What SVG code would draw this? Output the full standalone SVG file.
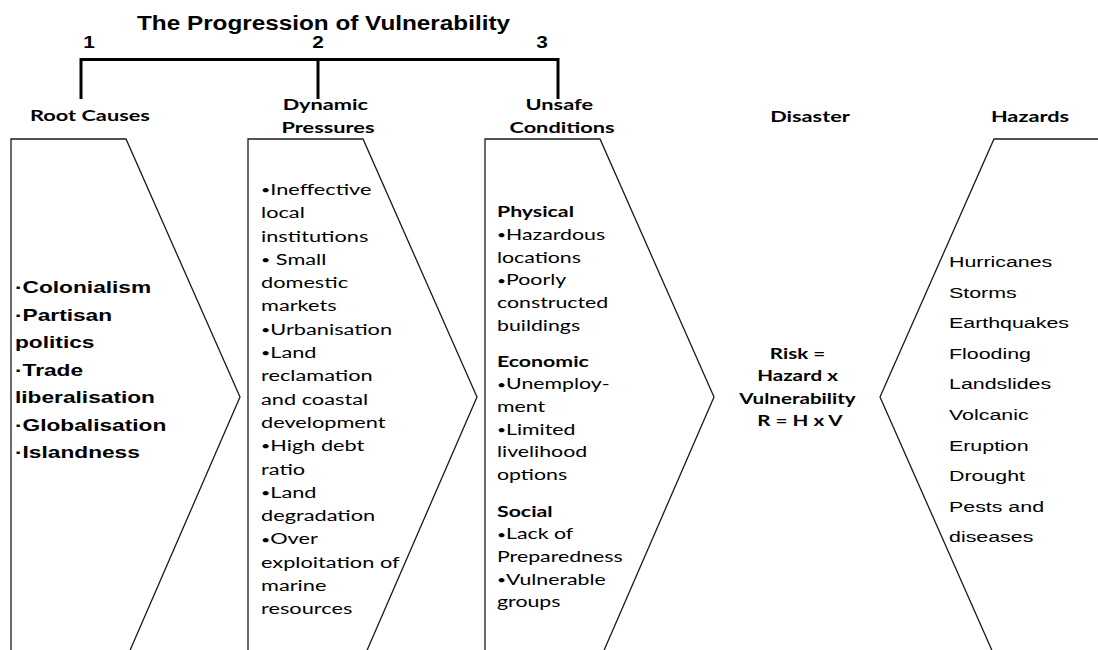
<svg xmlns="http://www.w3.org/2000/svg" width="1098" height="650" viewBox="0 0 1098 650">
  <style>
    .chev { fill: #ffffff; stroke: #1a1a1a; stroke-width: 1.3; stroke-linejoin: miter; }
    .bracket { fill: none; stroke: #000000; stroke-width: 3; stroke-linecap: square; }
    .arial { font-family: "Liberation Sans", Arial, sans-serif; fill: #000000; }
    .cal { font-family: Lato, "Open Sans", sans-serif; fill: #000000; }
    .b { font-weight: bold; }
    .bul { font-size: 11px; baseline-shift: 1px; }
    .title { font-size: 20px; font-weight: bold; }
    .num { font-size: 16px; font-weight: bold; }
    .head { font-size: 15px; font-weight: bold; }
    .body1 { font-size: 16px; font-weight: bold; }
    .body2 { font-size: 15px; }
    .haz { font-size: 15.5px; }
  </style>

  <rect x="0" y="0" width="1098" height="650" fill="#ffffff"/>

  <!-- heading and stage numbers -->
  <g id="heading">
    <text class="arial title" x="137" y="30" textLength="373" lengthAdjust="spacingAndGlyphs">The Progression of Vulnerability</text>
    <text class="arial num" transform="translate(89,0) scale(1.3,1)" text-anchor="middle"><tspan x="0" y="48">1</tspan></text>
    <text class="arial num" transform="translate(318,0) scale(1.3,1)" text-anchor="middle"><tspan x="0" y="48">2</tspan></text>
    <text class="arial num" transform="translate(542,0) scale(1.3,1)" text-anchor="middle"><tspan x="0" y="48">3</tspan></text>
  </g>

  <!-- bracket linking the three stages -->
  <g id="connectors">
    <path class="bracket" d="M81,97.5 V59.5 H558 V97.5"/>
    <path class="bracket" d="M318,59.5 V97.5"/>
  </g>

  <!-- stage 1 -->
  <g id="root-causes">
    <text class="cal head" transform="translate(90,0) scale(1.45,1)" text-anchor="middle"><tspan x="0" y="121">Root Causes</tspan></text>
    <path class="chev" d="M11,139 H126 L240,397 L128,655 H11 Z"/>
    <text class="arial body1" transform="translate(15,0) scale(1.42,1)">
      <tspan x="0" y="293.5">·Colonialism</tspan>
      <tspan x="0" y="321">·Partisan</tspan>
      <tspan x="0" y="348.5">politics</tspan>
      <tspan x="0" y="376">·Trade</tspan>
      <tspan x="0" y="403.5">liberalisation</tspan>
      <tspan x="0" y="431">·Globalisation</tspan>
      <tspan x="0" y="458.5">·Islandness</tspan>
    </text>
  </g>

  <!-- stage 2 -->
  <g id="dynamic-pressures">
    <text class="cal head" transform="translate(328,0) scale(1.45,1)" text-anchor="middle">
      <tspan x="0" y="110">Dynamic</tspan>
      <tspan x="0" y="133">Pressures</tspan>
    </text>
    <path class="chev" d="M248,139 H363 L477,397 L365,655 H248 Z"/>
    <text class="cal body2" transform="translate(261,0) scale(1.45,1)">
      <tspan x="0" y="195"><tspan class="bul">•</tspan>Ineffective</tspan>
      <tspan x="0" y="218.3">local</tspan>
      <tspan x="0" y="241.6">institutions</tspan>
      <tspan x="0" y="264.9"><tspan class="bul">•</tspan> Small</tspan>
      <tspan x="0" y="288.2">domestic</tspan>
      <tspan x="0" y="311.5">markets</tspan>
      <tspan x="0" y="334.8"><tspan class="bul">•</tspan>Urbanisation</tspan>
      <tspan x="0" y="358.1"><tspan class="bul">•</tspan>Land</tspan>
      <tspan x="0" y="381.4">reclamation</tspan>
      <tspan x="0" y="404.7">and coastal</tspan>
      <tspan x="0" y="428">development</tspan>
      <tspan x="0" y="451.3"><tspan class="bul">•</tspan>High debt</tspan>
      <tspan x="0" y="474.6">ratio</tspan>
      <tspan x="0" y="497.9"><tspan class="bul">•</tspan>Land</tspan>
      <tspan x="0" y="521.2">degradation</tspan>
      <tspan x="0" y="544.5"><tspan class="bul">•</tspan>Over</tspan>
      <tspan x="0" y="567.8">exploitation of</tspan>
      <tspan x="0" y="591.1">marine</tspan>
      <tspan x="0" y="614.4">resources</tspan>
    </text>
  </g>

  <!-- stage 3 -->
  <g id="unsafe-conditions">
    <text class="cal head" transform="translate(562,0) scale(1.45,1)" text-anchor="middle">
      <tspan x="0" y="110">Unsafe</tspan>
      <tspan x="0" y="133">Conditions</tspan>
    </text>
    <path class="chev" d="M485,139 H600 L714,397 L602,655 H485 Z"/>
    <text class="cal body2" transform="translate(497,0) scale(1.42,1)">
      <tspan class="b" x="0" y="217.3">Physical</tspan>
      <tspan x="0" y="240"><tspan class="bul">•</tspan>Hazardous</tspan>
      <tspan x="0" y="262.7">locations</tspan>
      <tspan x="0" y="285.4"><tspan class="bul">•</tspan>Poorly</tspan>
      <tspan x="0" y="308.1">constructed</tspan>
      <tspan x="0" y="330.8">buildings</tspan>
      <tspan class="b" x="0" y="366.7">Economic</tspan>
      <tspan x="0" y="389.4"><tspan class="bul">•</tspan>Unemploy-</tspan>
      <tspan x="0" y="412.1">ment</tspan>
      <tspan x="0" y="434.8"><tspan class="bul">•</tspan>Limited</tspan>
      <tspan x="0" y="457.5">livelihood</tspan>
      <tspan x="0" y="480.2">options</tspan>
      <tspan class="b" x="0" y="516.7">Social</tspan>
      <tspan x="0" y="539.4"><tspan class="bul">•</tspan>Lack of</tspan>
      <tspan x="0" y="562.1">Preparedness</tspan>
      <tspan x="0" y="584.8"><tspan class="bul">•</tspan>Vulnerable</tspan>
      <tspan x="0" y="607.5">groups</tspan>
    </text>
  </g>

  <!-- outcome -->
  <g id="disaster">
    <text class="cal head" transform="translate(810,0) scale(1.45,1)" text-anchor="middle"><tspan x="0" y="122">Disaster</tspan></text>
    <text class="cal head" transform="translate(800,0) scale(1.42,1)" text-anchor="middle" style="font-size:14.5px">
      <tspan x="0" y="359">Risk =</tspan>
      <tspan x="0" y="381.5">Hazard x</tspan>
      <tspan x="0" y="404">Vulnerability</tspan>
      <tspan x="0" y="426.5">R = H x V</tspan>
    </text>
  </g>

  <!-- triggering events -->
  <g id="hazards">
    <text class="cal head" transform="translate(1030,0) scale(1.45,1)" text-anchor="middle"><tspan x="0" y="122">Hazards</tspan></text>
    <path class="chev" d="M1102,139 H994 L880,397 L994,655 H1102 Z"/>
    <text class="arial haz" transform="translate(949,0) scale(1.38,1)">
      <tspan x="0" y="267">Hurricanes</tspan>
      <tspan x="0" y="297.6">Storms</tspan>
      <tspan x="0" y="328.2">Earthquakes</tspan>
      <tspan x="0" y="358.8">Flooding</tspan>
      <tspan x="0" y="389.4">Landslides</tspan>
      <tspan x="0" y="420">Volcanic</tspan>
      <tspan x="0" y="450.6">Eruption</tspan>
      <tspan x="0" y="481.2">Drought</tspan>
      <tspan x="0" y="511.8">Pests and</tspan>
      <tspan x="0" y="542.4">diseases</tspan>
    </text>
  </g>
</svg>
